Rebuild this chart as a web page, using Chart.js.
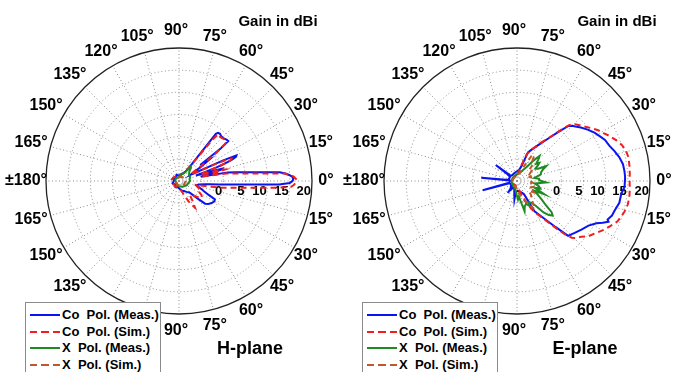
<!DOCTYPE html>
<html><head><meta charset="utf-8">
<script src="https://cdn.jsdelivr.net/npm/chart.js@4.4.1/dist/chart.umd.min.js"></script>
<style>
html,body{margin:0;padding:0;background:#fff;}
#wrap{position:relative;width:678px;height:372px;overflow:hidden;font-family:"Liberation Sans",Arial,sans-serif;}
canvas{position:absolute;top:0;}
.txt{position:absolute;font-weight:bold;white-space:pre;color:#000;transform:translate(-50%,-50%);}
.legend{position:absolute;top:302px;width:134px;height:80px;border:1px solid #8a8a8a;background:#fff;}
.row{position:absolute;left:4px;height:16px;width:130px;font:bold 13px "Liberation Sans",Arial,sans-serif;white-space:pre;color:#000;}
.ln{position:absolute;left:0;top:7px;width:30px;height:2px;}
.tx{position:absolute;left:32px;top:0;line-height:16px;}
</style></head>
<body>
<div id="wrap">
<canvas id="cH" width="340" height="372" style="left:0;width:340px;height:372px"></canvas>
<canvas id="cE" width="340" height="372" style="left:339px;width:340px;height:372px"></canvas>
<div class="txt" style="left:278px;top:20px;font-size:15px">Gain in dBi</div>
<div class="txt" style="left:617px;top:20px;font-size:15px">Gain in dBi</div>
<div class="txt" style="left:250px;top:348px;font-size:18px">H-plane</div>
<div class="txt" style="left:585px;top:348px;font-size:18px">E-plane</div>
<div class="legend" id="legH" style="left:25px"></div>
<div class="legend" id="legE" style="left:362px"></div>
</div>
<script>
// ---------- tick definitions ----------
const angleTicks = [0,15,30,45,60,75,90,105,120,135,150,165,180,195,210,225,240,255,270,285,300,315,330,345];
const angleTickLabels = ['0°','15°','30°','45°','60°','75°','90°','105°','120°','135°','150°','165°','±180°','165°','150°','135°','120°','105°','90°','75°','60°','45°','30°','15°'];
const radialTicks = [0,5,10,15,20];
const seriesNames = ['Co  Pol. (Meas.)','Co  Pol. (Sim.)','X  Pol. (Meas.)','X  Pol. (Sim.)'];

// ---------- H-plane data (angle deg, gain dBi) ----------
const hCoMeasAng  = [-180,-160,-140,-120,-100,-85,-75,-65,-55,-48,-45,-43,-41,-38,-34,-30,-27,-25,-22,-20,-17,-14,-10,-7,-6,-5,-4,-3,-2,-1,0,1,2,3,4,5,6,7,8,9,10,11,13,15,16,17,18,19,20,21,22,23,24,25,26,28,31,33,35,37,38,39,41,44,47,49,51,52,53,56,62,70,80,95,110,130,150,165];
const hCoMeasGain = [-8.8,-8.5,-8.8,-8.4,-8.6,-8.2,-7.8,-7.5,-7,-6.5,-5.5,-4,-2.2,-1.6,-1.1,-0.8,-0.9,-2.7,-4,-4.5,-5.5,-6,-5.5,-4,-3,-1,1.3,5.1,12.6,15,15.6,15.8,15.6,15,14,12.8,9,6.3,4.2,2.7,1.2,-5,-3,0,0.2,-3,-6,-4,-1,1.5,3,4,4.2,1,-4,-7,-6,-4,-2,-4,2,4.3,4.2,3.9,3.9,4.1,4.0,3.5,-6,-7.5,-8,-8.3,-8.6,-8.8,-8.5,-8.8,-8.6,-8.9];

const hCoSimAng  = [-180,-160,-140,-120,-100,-85,-75,-69,-65,-62,-59,-56,-52,-46,-40,-36,-32,-28,-24,-20,-16,-13,-11,-10,-9,-8,-7,-6,-5,-4,-3,-2,-1,0,1,2,3,4,5,6,7,8,9,10,11,12,13,14,15,16,17,19,20,21,22,23,24,25,26,28,32,35,37,39,41,44,47,50,51,52,55,60,70,85,100,120,140,160,170];
const hCoSimGain = [-8.3,-8.4,-8.6,-8.5,-8.6,-8.2,-7.5,-6.4,-5,-4,-3,-4.5,-6,-5.5,-4.2,-3.6,-4,-5,-5.5,-5.2,-5.8,-6,-4,-2.5,-0.5,1,2.6,4.7,7.6,12,15.3,15.9,16.3,16.5,16.4,16,15.3,14,9.4,6.2,3.9,2.2,0.8,-3,-5,-3,-1,0.7,0,-3,-5,-3,-0.5,1.5,2.7,2.9,2,-1,-5,-7,-6,-3,0.5,3.5,4,3.8,3.6,3.8,2,-4,-7,-8,-8.5,-9,-8.7,-8.9,-8.6,-8.4,-8.3];

const hXMeasAng  = [-180,-150,-120,-90,-60,-30,-10,0,10,20,30,40,45,48,50,52,56,70,90,120,150];
const hXMeasGain = [-9.2,-9.3,-9,-8.8,-8.5,-8,-7.8,-7.5,-7.6,-7.3,-7.4,-7,-6.5,-6,-5.8,-6.8,-7.8,-8.5,-9,-9.2,-9.1];

const hXSimAng  = [-180,-150,-120,-90,-60,-30,0,30,60,90,120,150];
const hXSimGain = [-9.4,-9.3,-9.2,-9,-8.8,-8.6,-8.5,-8.6,-8.9,-9.2,-9.3,-9.4];

// ---------- E-plane data (angle deg, gain dBi) ----------
const eCoMeasAng  = [-180,-170,-167,-165,-163,-150,-135,-130,-128,-125,-110,-100,-98,-96,-85,-75,-65,-62,-60,-55,-50,-47,-42,-37,-32,-28,-26,-24,-23,-20,-17,-12,-7,-3,2,5,9,13,17,21,25,28,32,36,40,43,45,47,50,54,60,65,69,73,80,90,100,115,130,140,143,145,155,165,173,175,177];
const eCoMeasGain = [-8.4,-8.3,-8.2,-2,-8.2,-8.5,-8,-8.2,-6.6,-8,-8.2,-6.5,-5.8,-7.5,-7.8,-7.5,-7,-6.5,-2.1,0,3.6,6.9,7.5,8.2,9,10.3,11.5,12.6,12.2,12.8,13,13.6,13.7,14.3,14.4,14.35,14.2,13.7,13,12.3,11.9,11.3,10.6,9.7,8.8,8.0,7.6,7.0,4.4,1.7,-0.8,-2.2,-3.1,-6.5,-7.5,-7.8,-8,-8.2,-8.3,-8.2,-4,-7.8,-8.2,-8.1,-8.3,-1.9,-8.3];

const eCoSimAng  = [-180,-150,-120,-100,-85,-78,-72,-67,-63,-60,-55,-50,-48,-46,-44,-41,-38,-33,-29,-26,-22,-19,-16,-12,-8,-4,0,4,8,12,16,19,22,26,29,32,36,40,43,45,47,49,52,56,60,65,70,75,80,90,110,130,150,165];
const eCoSimGain = [-9,-8.8,-9,-8.8,-8.5,-8,-7,-5,-3,-1.8,0.3,4.2,6.2,7.8,8.5,9.2,10.3,11.4,12.6,13.3,14.4,14.8,15.2,15.55,15.6,15.5,15.4,15.5,15.6,15.7,15.5,15,14.3,13.2,12.3,11.6,10.4,9.3,8.6,8.2,7.2,5.4,3.0,1.0,-0.6,-2.2,-3.6,-6.5,-8,-8.6,-8.8,-9,-8.9,-9.1];

const eXMeasAng  = [-180,-150,-120,-100,-92,-87,-83,-79,-76,-73,-68,-64,-60,-56,-53,-50,-47,-44,-42,-40,-37,-33,-29,-26,-24,-21,-18,-13,-8,-3,0,3,6,10,15,20,24,27,30,34,37,39,42,45,48,51,55,60,70,90,120,150];
const eXMeasGain = [-8.8,-8.7,-8.5,-8,-7,-5.8,-6.5,-5,-3,-4,-4.5,-3.8,-4.5,-4,-3,-0.8,0.5,1.2,0.5,-1.5,-3,-4.5,-5.5,-3.1,-4.5,-5.8,-4.5,-5,-6,-3.4,-4.5,-5,-5,-6,-4.5,-4.2,-3.6,-2.6,-4.5,-5,-4,-3.5,-4.2,-3.2,-2.4,-4,-6,-7,-8,-8.5,-8.7,-8.8];

const eXSimAng  = [-180,-150,-120,-95,-85,-75,-68,-63,-58,-55,-50,-45,-40,-34,-28,-20,-12,-5,0,6,12,18,22,28,35,40,46,52,56,60,64,70,80,100,130,160];
const eXSimGain = [-9,-9,-8.8,-8.5,-7.5,-6.5,-5,-4,-2.5,-3.5,-5,-5.5,-6.5,-5.5,-6.8,-6,-7,-6.5,-7,-6.8,-6.5,-7,-6.2,-6.8,-6,-6.5,-5,-4.5,-3,-3.5,-6,-8,-8.5,-8.8,-9,-9];

// ---------- styles ----------
const COLORS = ['#0a14f0','#f01e1e','#1f8a22','#c0582a'];
const DASHES = [[],[6,4],[],[5,4]];

// ---------- helpers ----------
const N = 360;
const angleCats = Array.from({length: N}, (_, i) => String(((90 - i) % 360 + 360) % 360));
function idxOf(a){ return ((90 - a) % 360 + 360) % 360; }
function toSeries(ang, gain){
  const arr = new Array(N).fill(null);
  ang.forEach((a, k) => { arr[idxOf(a)] = gain[k]; });
  return arr;
}

const labelsPlugin = {
  id: 'polarLabels',
  beforeDatasetsDraw(chart){
    const s = chart.scales.r, ctx = chart.ctx;
    ctx.save();
    ctx.fillStyle = '#000';
    ctx.font = 'bold 13px "Liberation Sans", Arial, sans-serif';
    ctx.textAlign = 'right'; ctx.textBaseline = 'middle';
    radialTicks.forEach(v => {
      const d = s.getDistanceFromCenterForValue(v);
      ctx.fillText(String(v), s.xCenter + d - 1, s.yCenter + 10);
    });
    ctx.restore();
  },
  afterDraw(chart){
    const s = chart.scales.r, ctx = chart.ctx;
    ctx.save();
    ctx.fillStyle = '#000';
    ctx.font = 'bold 16px "Liberation Sans", Arial, sans-serif';
    ctx.textAlign = 'center'; ctx.textBaseline = 'middle';
    angleTicks.forEach((a, k) => {
      const p = s.getPointPosition(idxOf(a), s.drawingArea + 17);
      ctx.fillText(angleTickLabels[k], p.x - 3, p.y);
    });
    ctx.restore();
  }
};

function makeChart(id, series, pad){
  const datasets = series.map((s, k) => ({
    label: seriesNames[k],
    data: toSeries(s[0], s[1]),
    borderColor: COLORS[k],
    borderDash: DASHES[k],
    borderWidth: 2,
    fill: false,
    spanGaps: true,
    pointRadius: 0,
    pointHoverRadius: 0,
    tension: 0,
    order: 3 - k
  }));
  return new Chart(document.getElementById(id), {
    type: 'radar',
    data: { labels: angleCats, datasets },
    options: {
      responsive: false, animation: false, devicePixelRatio: 1,
      layout: { padding: pad },
      plugins: { legend: { display: false }, tooltip: { enabled: false } },
      scales: {
        r: {
          min: -10, max: 20,
          ticks: { stepSize: 5, display: false },
          grid: {
            circular: true,
            color: c => (c.tick && c.tick.value === 20) ? '#222' : '#8c8c8c',
            lineWidth: c => (c.tick && c.tick.value === 20) ? 1.3 : 1
          },
          border: { dash: c => (c.tick && c.tick.value === 20) ? [] : [1, 2.5] },
          angleLines: {
            color: c => (c.index % 15 === 0) ? '#8c8c8c' : 'rgba(0,0,0,0)',
            lineWidth: c => (c.index % 15 === 0) ? 1 : 0,
            borderDash: [1, 2.5]
          },
          pointLabels: { display: false }
        }
      }
    },
    plugins: [labelsPlugin]
  });
}

makeChart('cH', [[hCoMeasAng,hCoMeasGain],[hCoSimAng,hCoSimGain],[hXMeasAng,hXMeasGain],[hXSimAng,hXSimGain]], {left:46,right:28,top:48,bottom:58});
makeChart('cE', [[eCoMeasAng,eCoMeasGain],[eCoSimAng,eCoSimGain],[eXMeasAng,eXMeasGain],[eXSimAng,eXSimGain]], {left:45,right:29,top:48,bottom:58});

// ---------- HTML legends ----------
function buildLegend(id){
  const box = document.getElementById(id);
  seriesNames.forEach((name, k) => {
    const row = document.createElement('div');
    row.className = 'row';
    row.style.top = (4 + k * 16.6) + 'px';
    const ln = document.createElement('span');
    ln.className = 'ln';
    if (DASHES[k].length) {
      ln.style.background = `repeating-linear-gradient(to right, ${COLORS[k]} 0 7px, transparent 7px 11.5px)`;
    } else {
      ln.style.background = COLORS[k];
    }
    const tx = document.createElement('span');
    tx.className = 'tx';
    tx.textContent = name;
    row.appendChild(ln); row.appendChild(tx);
    box.appendChild(row);
  });
}
buildLegend('legH'); buildLegend('legE');
</script>
</body></html>
